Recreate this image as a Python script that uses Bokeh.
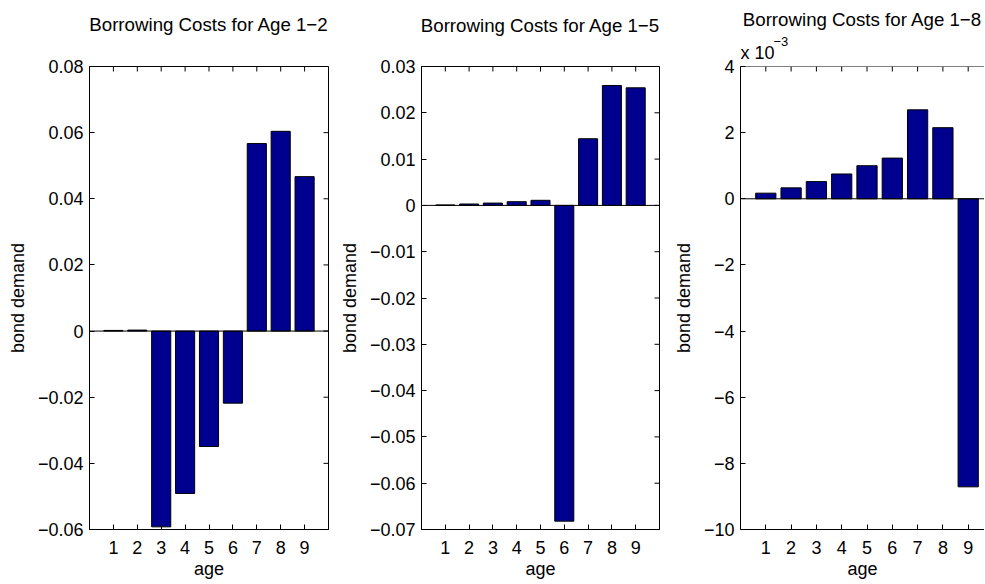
import numpy as np
from bokeh.plotting import figure
from bokeh.models import Range1d, FixedTicker, Span, Title, LinearAxis, CustomJSTickFormatter
from bokeh.layouts import row
from bokeh.embed import file_html
from bokeh.resources import INLINE

# ---------------- data ----------------
ages = [1, 2, 3, 4, 5, 6, 7, 8, 9]
demand_age_1_2 = [0.0002, 0.0003, -0.0592, -0.0491, -0.0349, -0.0218, 0.0567, 0.0604, 0.0467]
demand_age_1_5 = [0.0001, 0.0003, 0.0005, 0.0008, 0.0011, -0.0682, 0.0144, 0.0259, 0.0254]
demand_age_1_8_e3 = [0.17, 0.33, 0.52, 0.75, 1.00, 1.23, 2.69, 2.15, -8.71]  # in units of 10^-3

titles = ["Borrowing Costs for Age 1\u22122",
          "Borrowing Costs for Age 1\u22125",
          "Borrowing Costs for Age 1\u22128"]
yticks_1 = [-0.06, -0.04, -0.02, 0.0, 0.02, 0.04, 0.06, 0.08]
yticks_2 = [-0.07, -0.06, -0.05, -0.04, -0.03, -0.02, -0.01, 0.0, 0.01, 0.02, 0.03]
yticks_3 = [-10, -8, -6, -4, -2, 0, 2, 4]
x_label = "age"
y_label = "bond demand"
exponent_base = "x 10"
exponent_power = "\u22123"

FONT = "Liberation Sans"
FS = "18px"
TFS = "18.7px"
BAR = "#00008F"


def fmt(decimals):
    return CustomJSTickFormatter(args=dict(d=decimals), code="""
        if (Math.abs(tick) < 1e-12) { return "0"; }
        const s = Math.abs(tick).toFixed(d);
        return (tick < 0 ? "\u2212" : "") + s;
    """)


def make_panel(values, yticks, y0, y1, decimals, left, frame_w, right,
               top, frame_h, bottom, x_end=10, outline=True):
    p = figure(output_backend="svg", toolbar_location=None,
               width=left + frame_w + right, height=top + frame_h + bottom,
               x_range=Range1d(0, x_end), y_range=Range1d(y0, y1),
               min_border_left=left, min_border_top=top, min_border_bottom=bottom,
               min_border_right=right, title=None,
               background_fill_color="white", border_fill_color="white")
    p.xgrid.visible = False
    p.ygrid.visible = False
    p.outline_line_color = "black" if outline else None
    p.outline_line_width = 1

    p.xaxis.ticker = FixedTicker(ticks=ages)
    p.yaxis.ticker = FixedTicker(ticks=yticks)
    p.yaxis.formatter = fmt(decimals)

    for ax in list(p.xaxis) + list(p.yaxis):
        ax.major_tick_in = 5
        ax.major_tick_out = 0
        ax.minor_tick_line_color = None
        ax.axis_line_color = "black"
        ax.major_tick_line_color = "black"
        ax.major_label_text_font = FONT
        ax.major_label_text_font_size = FS
        ax.major_label_text_color = "black"
        ax.axis_label_text_font = FONT
        ax.axis_label_text_font_size = FS
        ax.axis_label_text_font_style = "normal"
        ax.axis_label_text_color = "black"

    p.xaxis.axis_label = x_label
    p.yaxis.axis_label = y_label
    p.xaxis.major_label_standoff = 11
    p.xaxis.axis_label_standoff = 2
    p.yaxis.major_label_standoff = 6
    p.yaxis.axis_label_standoff = 7

    # inward ticks on the top and right edges (MATLAB box style)
    p.ray(x=ages, y=[y1] * len(ages), angle=-np.pi / 2, length=5,
          length_units="screen", line_color="black", line_width=1)
    if outline:
        p.ray(x=[x_end] * len(yticks), y=yticks, angle=np.pi, length=5,
              length_units="screen", line_color="black", line_width=1)

    p.vbar(x=ages, top=values, bottom=0, width=0.8,
           fill_color=BAR, line_color="black", line_width=1)
    p.add_layout(Span(location=0, dimension="width", line_color="black", line_width=1))
    return p


def axis_title(p, text, standoff):
    # title drawn as the label of a tick-less top axis
    ax = LinearAxis(ticker=FixedTicker(ticks=[]), axis_label=text,
                    axis_line_color=None, major_tick_line_color=None,
                    minor_tick_line_color=None, major_tick_in=0, major_tick_out=0,
                    major_label_standoff=0, axis_label_standoff=standoff,
                    axis_label_text_font=FONT, axis_label_text_font_size=TFS,
                    axis_label_text_font_style="normal", axis_label_text_color="black")
    p.add_layout(ax, "above")


def title_obj(text, standoff, size=TFS, align="center", offset=0, valign="bottom"):
    return Title(text=text, align=align, text_font=FONT, text_font_size=size,
                 text_font_style="normal", text_color="black", standoff=standoff,
                 offset=offset, vertical_align=valign)


p1 = make_panel(demand_age_1_2, yticks_1, -0.06, 0.08, 2, 89, 239, 7, 66, 467, 48)
p2 = make_panel(demand_age_1_5, yticks_2, -0.07, 0.03, 2, 86, 238, 5, 66, 469, 46)
p3 = make_panel(demand_age_1_8_e3, yticks_3, -10, 4, 0, 76, 244, 0, 66, 467, 48,
                x_end=244 / 25.3, outline=False)
p3.add_layout(Span(location=4, dimension="width", line_color="black", line_width=1))

axis_title(p1, titles[0], 32)
axis_title(p2, titles[1], 31)

# panel 3: exponent "x 10^-3", then the title
try:
    sup = title_obj(exponent_power, -16, size="13px", align="left", offset=33)
    p3.add_layout(title_obj(exponent_base, 7, size=FS, align="left"), "above")
    p3.add_layout(sup, "above")
    p3.add_layout(title_obj(titles[2], 12, valign="top"), "above")
except Exception:
    p3.add_layout(title_obj(exponent_base + "\u207b\u00b3", 6, size=FS, align="left"), "above")
    p3.add_layout(title_obj(titles[2], 16, valign="top"), "above")

layout = row(p1, p2, p3)

open("out.html", "w").write(file_html(layout, INLINE))
